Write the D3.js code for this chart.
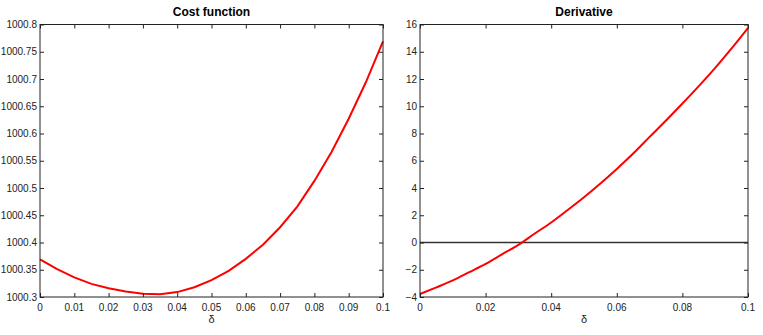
<!DOCTYPE html>
<html>
<head>
<meta charset="utf-8">
<script src="https://cdn.jsdelivr.net/npm/d3@7"></script>
<style>
  body { margin: 0; background: #fff; }
  svg { display: block; font-family: "Liberation Sans", Arial, sans-serif; }
</style>
</head>
<body>
<div id="chart"></div>
<script>
// sample points of delta (0 .. 0.1 step 0.005)
const delta = d3.range(21).map(i => +(i * 0.005).toFixed(3));

// values
const cost = [1000.369, 1000.351, 1000.336, 1000.324, 1000.316, 1000.310, 1000.306,
  1000.305, 1000.309, 1000.318, 1000.331, 1000.348, 1000.370, 1000.396, 1000.428,
  1000.466, 1000.513, 1000.566, 1000.627, 1000.694, 1000.769];
const deriv = [-3.78, -3.29, -2.78, -2.18, -1.57, -0.87, -0.17, 0.66, 1.47, 2.38, 3.32,
  4.33, 5.40, 6.53, 7.75, 8.95, 10.20, 11.48, 12.82, 14.25, 15.75];

const costTicksX = d3.range(11).map(i => i / 100);
const costTicksY = d3.range(11).map(i => 1000.3 + i * 0.05);
const derivTicksX = [0, 0.02, 0.04, 0.06, 0.08, 0.1];
const derivTicksY = [-4, -2, 0, 2, 4, 6, 8, 10, 12, 14, 16];

const svg = d3.select("#chart").append("svg")
  .attr("width", 763).attr("height", 335);

function panel(opts) {
  const { left, right, top, bottom, xDomain, yDomain, xTicks, yTicks, values, title, zeroLine, curve } = opts;
  const x = d3.scaleLinear().domain(xDomain).range([left, right]);
  const y = d3.scaleLinear().domain(yDomain).range([bottom, top]);
  const fmt = d => String(+d.toFixed(4));
  const tick = 4;

  const g = svg.append("g");

  // zero line (derivative only)
  if (zeroLine) {
    g.append("line")
      .attr("x1", left).attr("x2", right)
      .attr("y1", y(0)).attr("y2", y(0))
      .attr("stroke", "#333").attr("stroke-width", 1.5);
  }

  // curve
  const line = d3.line().x((d, i) => x(delta[i])).y(d => y(d)).curve(curve);
  g.append("path")
    .datum(values)
    .attr("d", line)
    .attr("fill", "none")
    .attr("stroke", "#ff0000")
    .attr("stroke-width", 2);

  // axes, ticks pointing inward like matlab
  g.append("g")
    .attr("transform", "translate(0," + bottom + ")")
    .call(d3.axisTop(x).tickValues(xTicks).tickSize(tick).tickFormat(""));
  g.append("g")
    .attr("transform", "translate(0," + top + ")")
    .call(d3.axisBottom(x).tickValues(xTicks).tickSize(tick).tickFormat(""));
  g.append("g")
    .attr("transform", "translate(" + left + ",0)")
    .call(d3.axisRight(y).tickValues(yTicks).tickSize(tick).tickFormat(""));
  g.append("g")
    .attr("transform", "translate(" + right + ",0)")
    .call(d3.axisLeft(y).tickValues(yTicks).tickSize(tick).tickFormat(""));
  g.selectAll(".domain").remove();
  g.selectAll(".tick line").attr("stroke", "#222");

  // box
  g.append("rect")
    .attr("x", left).attr("y", top)
    .attr("width", right - left).attr("height", bottom - top)
    .attr("fill", "none").attr("stroke", "#222").attr("stroke-width", 1);

  // tick labels
  g.selectAll(".xl").data(xTicks).join("text")
    .attr("x", d => x(d)).attr("y", bottom + 14)
    .attr("text-anchor", "middle")
    .attr("font-size", 10).attr("fill", "#222")
    .text(fmt);
  g.selectAll(".yl").data(yTicks).join("text")
    .attr("x", left - 3).attr("y", d => y(d) + 3.5)
    .attr("text-anchor", "end")
    .attr("font-size", 10).attr("fill", "#222")
    .text(d => d < 0 ? "\u2212" + fmt(-d) : fmt(d));

  // labels
  g.append("text")
    .attr("x", (left + right) / 2).attr("y", 16)
    .attr("text-anchor", "middle")
    .attr("font-size", 12).attr("font-weight", "bold")
    .text(title);
  g.append("text")
    .attr("x", (left + right) / 2).attr("y", 323)
    .attr("text-anchor", "middle")
    .attr("font-size", 11).attr("fill", "#222")
    .text("\u03b4");
}

panel({
  left: 40, right: 383, top: 24.5, bottom: 297,
  xDomain: [0, 0.1], yDomain: [1000.3, 1000.8],
  xTicks: costTicksX, yTicks: costTicksY,
  values: cost, title: "Cost function", zeroLine: false, curve: d3.curveLinear
});

panel({
  left: 420, right: 748, top: 24.5, bottom: 297,
  xDomain: [0, 0.1], yDomain: [-4, 16],
  xTicks: derivTicksX, yTicks: derivTicksY,
  values: deriv, title: "Derivative", zeroLine: true, curve: d3.curveMonotoneX
});
</script>
</body>
</html>
